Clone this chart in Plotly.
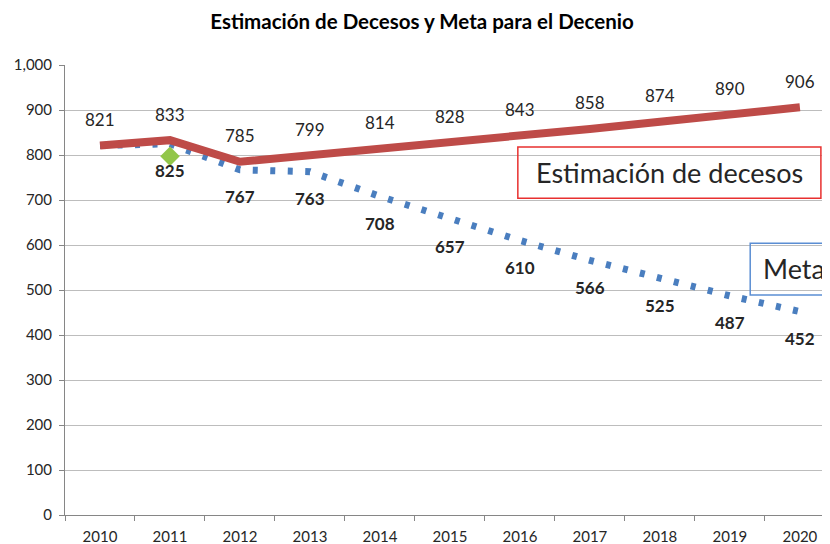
import plotly.graph_objects as go

years = ["2010", "2011", "2012", "2013", "2014", "2015", "2016", "2017", "2018", "2019", "2020"]
estimacion = [821, 833, 785, 799, 814, 828, 843, 858, 874, 890, 906]
meta = [821, 825, 767, 763, 708, 657, 610, 566, 525, 487, 452]
meta_labels = ["", "825", "767", "763", "708", "657", "610", "566", "525", "487", "452"]
punto_year = ["2011"]
punto_val = [797]

FONT = "Lato"
# page body has an 8px margin, so the figure is drawn 8px smaller
W, H = 822, 536
fig = go.Figure()

fig.add_trace(go.Scatter(x=years, y=meta, mode="lines",
                         line=dict(color="#4A7EBF", width=7, dash="5px,12.5px"),
                         hoverinfo="skip", showlegend=False))
fig.add_trace(go.Scatter(x=years, y=estimacion, mode="lines",
                         line=dict(color="#BE4B48", width=8),
                         hoverinfo="skip", showlegend=False))
fig.add_trace(go.Scatter(x=punto_year, y=punto_val, mode="markers",
                         marker=dict(symbol="diamond", size=15, color="#92C64A"),
                         hoverinfo="skip", showlegend=False))

ann = []
for i, v in enumerate(estimacion):
    ann.append(dict(x=i, y=v, xref="x", yref="y", text=str(v), showarrow=False, yshift=26,
                    font=dict(family=FONT, size=17, color="#262626")))
for i, (v, t) in enumerate(zip(meta, meta_labels)):
    if t:
        ann.append(dict(x=i, y=v, xref="x", yref="y", text="<b>" + t + "</b>",
                        showarrow=False, yshift=-27,
                        font=dict(family=FONT, size=17, color="#262626")))

ann.append(dict(x=8.135, y=761, xref="x", yref="y", text="Estimación de decesos",
                showarrow=False, xanchor="center", yanchor="middle",
                font=dict(family=FONT, size=27, color="#262626")))
ann.append(dict(x=9.45, y=547, xref="x", yref="y", text="Meta", showarrow=False,
                xanchor="left", yanchor="middle",
                font=dict(family=FONT, size=27, color="#262626")))

shapes = [
    dict(type="rect", xref="x", yref="y", x0=5.97, x1=10.3, y0=704, y1=818,
         line=dict(color="#E8302F", width=1.5), layer="above"),
    dict(type="rect", xref="x", yref="y", x0=9.29, x1=11.0, y0=489, y1=604,
         line=dict(color="#5B8ED3", width=1.5), layer="above"),
]

fig.update_layout(
    width=W, height=H,
    margin=dict(l=57, r=0, t=57, b=29),
    paper_bgcolor="white", plot_bgcolor="white",
    title=dict(text="<b>Estimación de Decesos y Meta para el Decenio</b>",
               x=414 / W, xanchor="center", y=1 - 14 / H, yanchor="middle",
               font=dict(family=FONT, size=20.5, color="#000000")),
    annotations=ann, shapes=shapes,
    xaxis=dict(type="category", range=[-0.5, 10.43], showgrid=False,
               showline=True, linecolor="#868686", linewidth=1,
               ticks="outside", tickson="boundaries", ticklen=5, tickcolor="#868686",
               ticklabelstandoff=8,
               tickfont=dict(family=FONT, size=15, color="#262626")),
    yaxis=dict(range=[0, 1000], dtick=100, tickformat=",",
               showgrid=True, gridcolor="#BDBDBD", gridwidth=1,
               showline=True, linecolor="#868686", linewidth=1,
               ticks="outside", ticklen=5, tickcolor="#868686",
               ticklabelstandoff=4, zeroline=False,
               tickfont=dict(family=FONT, size=15, color="#262626")),
)

fig.write_html("out.html")
